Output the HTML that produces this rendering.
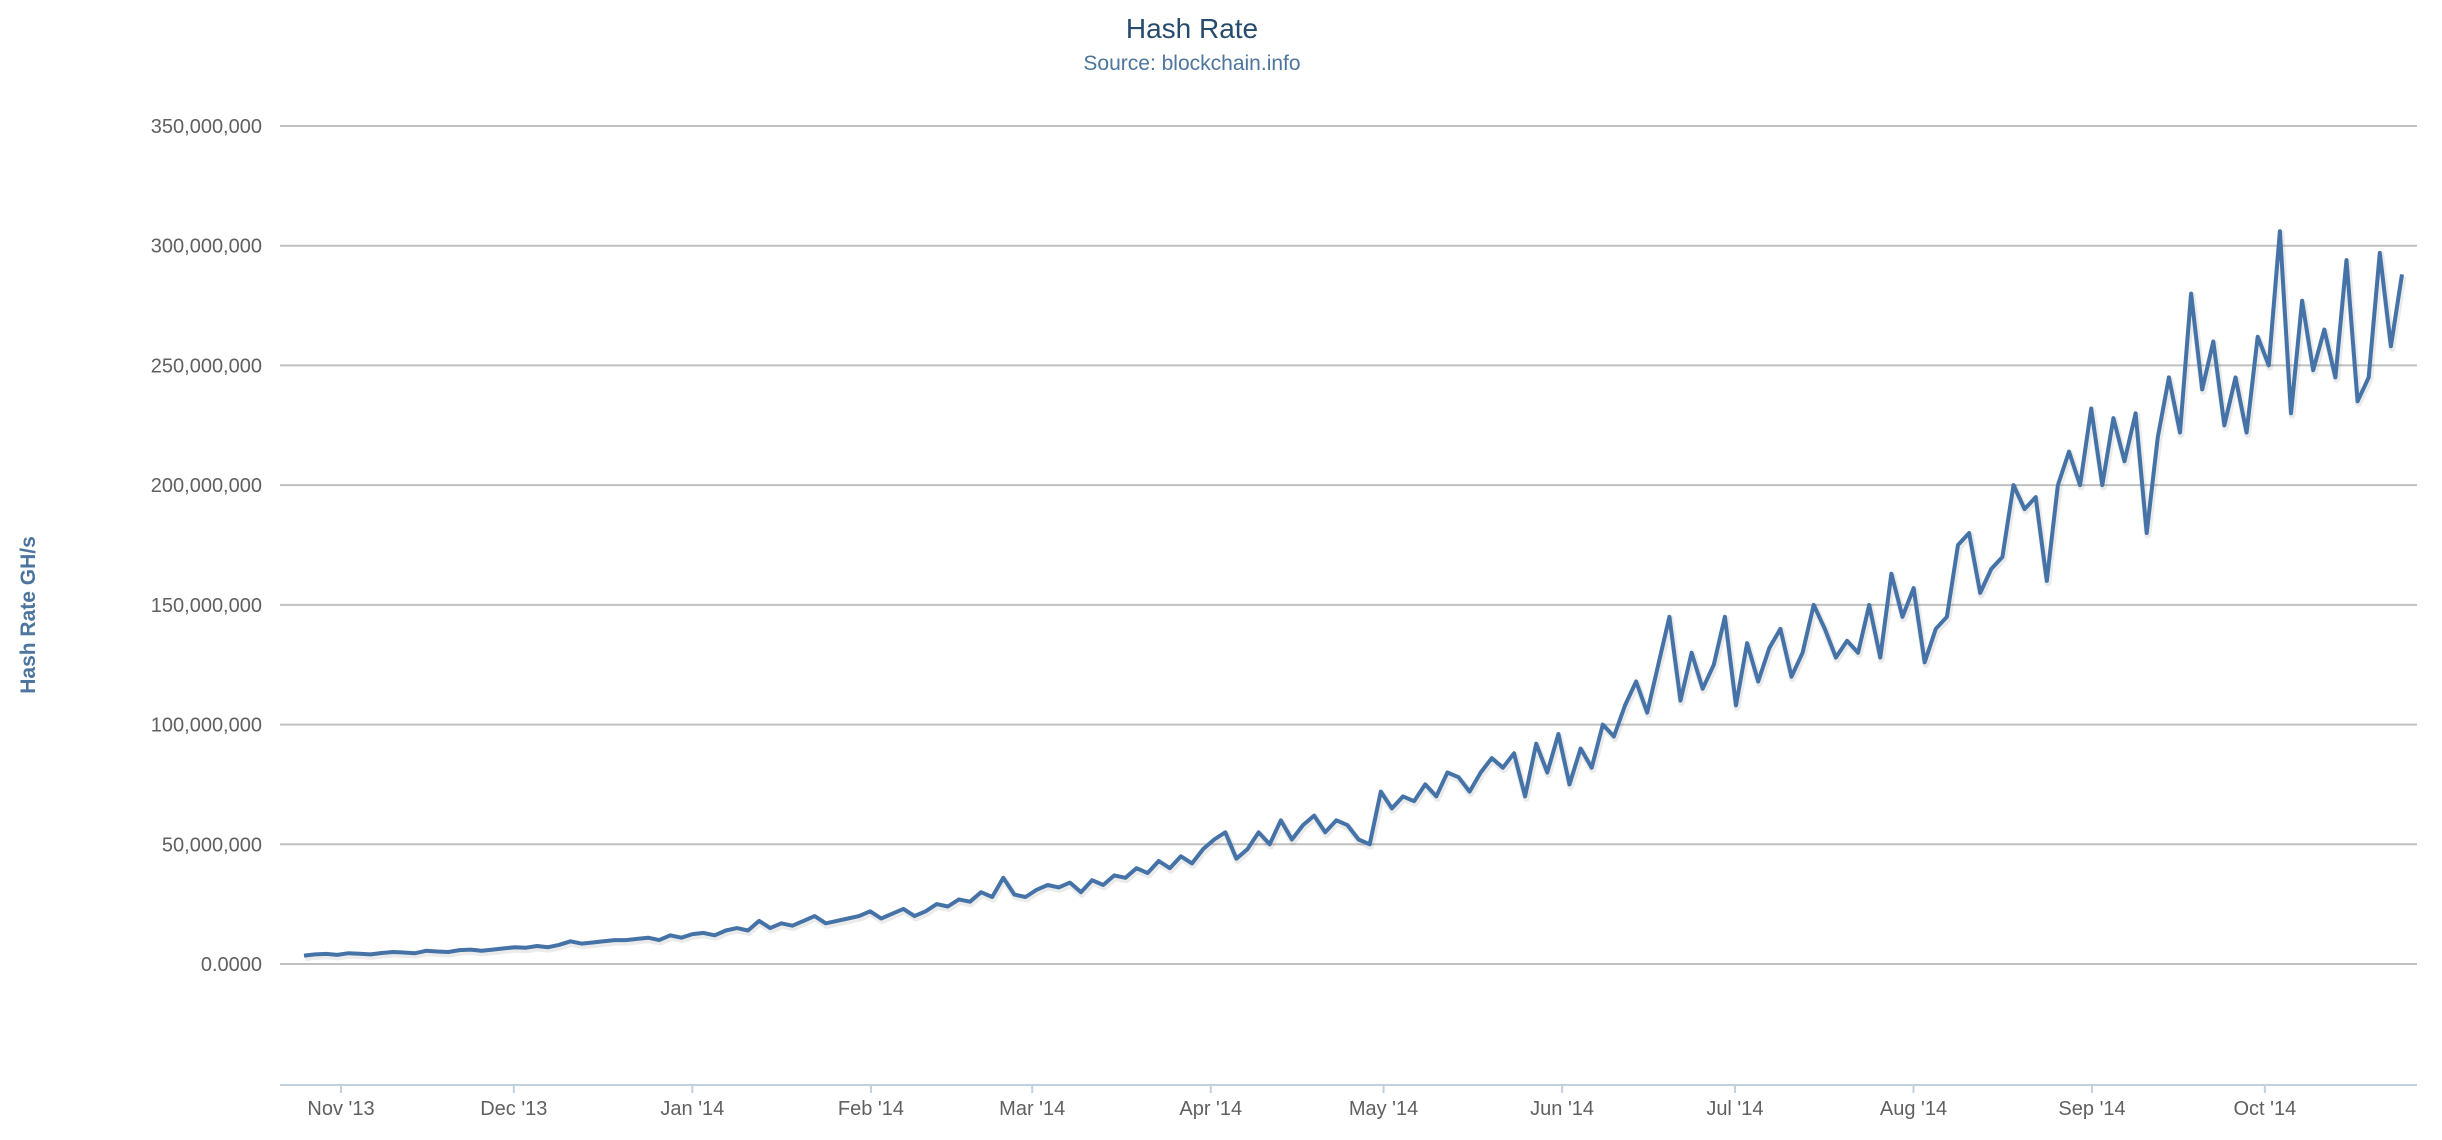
<!DOCTYPE html>
<html><head><meta charset="utf-8"><style>
html,body{margin:0;padding:0;background:#fff;}
svg{display:block;font-family:"Liberation Sans",sans-serif;}
</style></head><body>
<svg id="chart" width="2442" height="1140" viewBox="0 0 2442 1140" xmlns="http://www.w3.org/2000/svg">
<text x="1192" y="38" text-anchor="middle" font-size="28" fill="#274b6d">Hash Rate</text>
<text x="1192" y="70" text-anchor="middle" font-size="21" fill="#4d759e">Source: blockchain.info</text>
<text transform="translate(35,615) rotate(-90)" text-anchor="middle" font-size="21" font-weight="bold" fill="#4d759e">Hash Rate GH/s</text>
<g id="grid"></g><g id="yl"></g><g id="xa"></g><g id="series"></g>
</svg>
<script>
const yTicks=[0,50,100,150,200,250,300,350];
const yTickLabels=["0.0000","50,000,000","100,000,000","150,000,000","200,000,000","250,000,000","300,000,000","350,000,000"];
const monthLabels=["Nov '13","Dec '13","Jan '14","Feb '14","Mar '14","Apr '14","May '14","Jun '14","Jul '14","Aug '14","Sep '14","Oct '14"];
const monthDays=[4,34,65,96,124,155,185,216,246,277,308,338];
const hashRate=[3.5,4,4.2,3.8,4.5,4.3,4,4.6,5,4.8,4.5,5.5,5.2,5,5.8,6,5.5,
6,6.5,7,6.8,7.5,7,8,9.5,8.5,9,9.5,10,10,10.5,11,
10,12,11,12.5,13,12,14,15,14,18,15,17,16,18,20,17,
18,19,20,22,19,21,23,20,22,25,24,27,26,30,
28,36,29,28,31,33,32,34,30,35,33,37,36,40,38,43,
40,45,42,48,52,55,44,48,55,50,60,52,58,62,55,
60,58,52,50,72,65,70,68,75,70,80,78,72,80,86,82,
88,70,92,80,96,75,90,82,100,95,108,118,105,125,145,
110,130,115,125,145,108,134,118,132,140,120,130,150,140,128,135,
130,150,128,163,145,157,126,140,145,175,180,155,165,170,200,190,
195,160,200,214,200,232,200,228,210,230,180,220,245,222,280,
240,260,225,245,222,262,250,306,230,277,248,265,245,294,235,245,297,258,288];
const NS="http://www.w3.org/2000/svg";
const y=v=>964-v*(838/350);
const xDay=d=>341+(d-4)*5.76;
const xIdx=i=>304+i*(2402-304)/(hashRate.length-1);
function mk(tag,attrs,parent){const e=document.createElementNS(NS,tag);for(const k in attrs)e.setAttribute(k,attrs[k]);parent.appendChild(e);return e;}
const grid=document.getElementById('grid'),yl=document.getElementById('yl'),xa=document.getElementById('xa'),ser=document.getElementById('series');
yTicks.forEach((t,i)=>{
 const l=mk('line',{x1:280,x2:2417,y1:y(t),y2:y(t),stroke:'#c0c0c0','stroke-width':2},grid);
 
 
 const tx=mk('text',{x:262,y:y(t)+7,'text-anchor':'end','font-size':20,fill:'#606060'},yl);
 tx.textContent=yTickLabels[i];
 
 
});
const ax=mk('line',{x1:280,x2:2417,y1:1085,y2:1085,stroke:'#c0d0e0','stroke-width':2},xa);


monthLabels.forEach((m,i)=>{
 const xx=xDay(monthDays[i]);
 const tk=mk('line',{x1:xx,x2:xx,y1:1085,y2:1093,stroke:'#c0d0e0','stroke-width':2},xa);
 
 
 const tx=mk('text',{x:xx,y:1115,'text-anchor':'middle','font-size':20,fill:'#606060'},xa);
 tx.textContent=m;
 
 
});
const pts=hashRate.map((v,i)=>xIdx(i).toFixed(1)+','+y(v).toFixed(1)).join(' ');
const sh=mk('polyline',{points:pts,fill:'none',stroke:'rgba(0,0,0,0.08)','stroke-width':7,transform:'translate(1,2)','stroke-linejoin':'round'},ser);


const pl=mk('polyline',{points:pts,fill:'none',stroke:'#4572a7','stroke-width':4,'stroke-linejoin':'round'},ser);


</script>
</body></html>
